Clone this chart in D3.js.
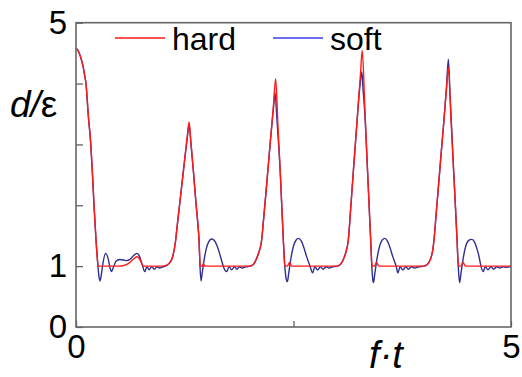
<!DOCTYPE html>
<html>
<head>
<meta charset="utf-8">
<script src="https://cdn.jsdelivr.net/npm/d3@7"></script>
<style>
  body { margin: 0; background: #fff; }
  svg { display: block; font-family: "Liberation Sans", Arial, sans-serif; }
</style>
</head>
<body>
<div id="chart"></div>
<script>
// valeurs : [f·t, d/ε]
const hard = [
  [0,4.58],[0.02,4.55],[0.05,4.45],[0.08,4.29],[0.10,4.13],[0.115,4.0],[0.14,3.5],[0.17,3.0],[0.19,2.5],[0.207,2.0],[0.23,1.43],[0.245,1.12],[0.253,1.0],
  [0.30,1.0],[0.40,1.0],[0.50,1.0],[0.55,1.01],[0.60,1.04],[0.65,1.10],[0.70,1.155],[0.73,1.12],[0.76,1.03],[0.78,1.0],
  [0.90,1.0],[1.00,1.0],[1.05,1.02],[1.08,1.06],[1.11,1.15],[1.146,1.43],[1.16,1.62],[1.19,2.0],[1.22,2.38],[1.25,2.76],[1.28,3.15],[1.30,3.37],
  [1.32,3.05],[1.35,2.55],[1.38,2.02],[1.405,1.62],[1.414,1.43],[1.422,1.15],[1.428,1.0],[1.45,1.0],[1.465,1.04],[1.48,1.0],
  [1.70,1.0],[2.00,1.0],[2.04,1.03],[2.077,1.13],[2.10,1.22],[2.134,1.43],[2.153,1.72],[2.18,2.15],[2.21,2.65],[2.24,3.15],[2.27,3.65],[2.295,4.08],
  [2.32,3.35],[2.35,2.48],[2.383,1.43],[2.395,1.1],[2.40,1.0],[2.43,1.0],[2.455,1.06],[2.48,1.0],
  [2.70,1.0],[3.00,1.0],[3.04,1.03],[3.07,1.1],[3.10,1.22],[3.13,1.43],[3.16,2.0],[3.19,2.6],[3.22,3.18],[3.25,3.77],[3.27,4.16],[3.29,4.55],
  [3.32,3.6],[3.35,2.6],[3.387,1.43],[3.40,1.05],[3.405,1.0],[3.43,1.0],[3.455,1.06],[3.48,1.0],
  [3.70,1.0],[4.00,1.0],[4.04,1.03],[4.07,1.1],[4.10,1.26],[4.115,1.43],[4.14,1.86],[4.17,2.38],[4.20,2.9],[4.23,3.41],[4.26,3.93],[4.28,4.27],
  [4.31,3.42],[4.34,2.57],[4.38,1.43],[4.39,1.1],[4.40,1.0],[4.425,1.0],[4.45,1.06],[4.475,1.0],[4.70,1.0],[5.0,1.0]
];

const soft = [
  [0,4.58],[0.02,4.55],[0.05,4.45],[0.08,4.29],[0.10,4.13],[0.115,4.0],[0.14,3.5],[0.17,3.0],[0.19,2.5],[0.207,2.0],[0.23,1.43],[0.25,1.05],
  [0.262,0.85],[0.276,0.755],[0.29,0.85],[0.31,1.05],[0.34,1.21],[0.37,1.12],[0.39,0.98],[0.406,0.91],[0.43,0.98],[0.46,1.08],[0.50,1.11],
  [0.55,1.10],[0.58,1.09],[0.62,1.11],[0.66,1.17],[0.70,1.21],[0.73,1.16],[0.76,1.03],[0.79,0.91],[0.815,0.99],[0.84,0.94],[0.87,0.99],
  [0.90,0.95],[0.93,0.99],[0.96,0.97],[1.00,0.99],[1.03,1.0],
  [1.05,1.02],[1.08,1.06],[1.11,1.15],[1.146,1.43],[1.16,1.62],[1.19,2.0],[1.22,2.38],[1.25,2.76],[1.28,3.12],[1.30,3.33],
  [1.32,3.03],[1.35,2.55],[1.38,2.02],[1.405,1.62],[1.414,1.43],[1.425,1.0],[1.437,0.76],[1.45,0.88],[1.47,1.08],[1.50,1.30],[1.53,1.41],
  [1.56,1.445],[1.59,1.42],[1.62,1.34],[1.65,1.21],[1.68,1.06],[1.70,0.97],[1.73,0.91],[1.76,0.99],[1.79,0.94],[1.82,0.99],[1.85,0.95],
  [1.88,0.99],[1.91,0.97],[1.95,0.99],[2.00,1.0],
  [2.04,1.03],[2.077,1.13],[2.10,1.22],[2.134,1.43],[2.153,1.72],[2.18,2.15],[2.21,2.65],[2.24,3.15],[2.27,3.6],[2.287,3.85],
  [2.31,3.4],[2.35,2.48],[2.383,1.43],[2.40,1.0],[2.415,0.8],[2.43,0.745],[2.445,0.88],[2.465,1.08],[2.50,1.33],[2.53,1.43],[2.556,1.456],
  [2.59,1.41],[2.62,1.3],[2.65,1.16],[2.69,1.0],[2.72,0.89],[2.745,0.99],[2.777,0.94],[2.81,0.99],[2.84,0.95],[2.875,0.99],[2.91,0.97],
  [2.95,0.99],[3.00,1.0],
  [3.04,1.03],[3.07,1.1],[3.10,1.22],[3.13,1.43],[3.16,2.0],[3.19,2.6],[3.22,3.18],[3.25,3.75],[3.27,4.05],[3.285,4.19],
  [3.30,3.9],[3.32,3.5],[3.35,2.6],[3.387,1.43],[3.40,1.0],[3.41,0.8],[3.42,0.73],[3.435,0.88],[3.455,1.08],[3.49,1.33],[3.52,1.43],
  [3.55,1.456],[3.58,1.41],[3.61,1.3],[3.64,1.16],[3.68,1.0],[3.70,0.89],[3.725,0.99],[3.757,0.94],[3.79,0.99],[3.82,0.95],[3.855,0.99],
  [3.89,0.97],[3.94,0.99],[4.00,1.0],
  [4.04,1.03],[4.07,1.1],[4.10,1.26],[4.115,1.43],[4.14,1.86],[4.17,2.38],[4.20,2.9],[4.23,3.41],[4.26,3.98],[4.28,4.40],
  [4.30,3.8],[4.34,2.6],[4.38,1.43],[4.39,1.1],[4.40,0.85],[4.41,0.73],[4.425,0.88],[4.445,1.08],[4.48,1.33],[4.51,1.42],[4.55,1.44],
  [4.58,1.40],[4.61,1.28],[4.635,1.14],[4.65,1.03],[4.68,0.91],[4.705,0.99],[4.735,0.94],[4.77,0.99],[4.80,0.95],[4.835,0.99],
  [4.87,0.97],[4.91,0.99],[4.95,0.98],[5.0,1.0]
];

const yTicks = [0, 1, 2, 3, 4, 5];
const yLabels = ["0", "1", "", "", "", "5"];
const xTicks = [0, 2.5, 5];
const xLabels = ["0", "", "5"];
const seriesNames = ["hard", "soft"];

const width = 522, height = 377;
const x = d3.scaleLinear().domain([0, 5]).range([76, 511]);
const y = d3.scaleLinear().domain([0, 5]).range([327, 22.7]);

const svg = d3.select("#chart").append("svg")
  .attr("width", width)
  .attr("height", height);

// axes (ticks vers l'intérieur)
const axeY = d3.axisLeft(y).tickValues(yTicks).tickSize(-7).tickPadding(9)
  .tickFormat((d, i) => yLabels[i]);
const axeX = d3.axisBottom(x).tickValues(xTicks).tickSize(-6).tickPadding(7)
  .tickFormat((d, i) => xLabels[i]);

const gy = svg.append("g").attr("transform", "translate(" + x(0) + ",0)").call(axeY);
const gx = svg.append("g").attr("transform", "translate(0," + y(0) + ")").call(axeX);
[gy, gx].forEach(g => {
  g.select(".domain").remove();
  g.selectAll(".tick line").attr("stroke", "#555").attr("stroke-width", 1.2);
  g.selectAll(".tick text").attr("font-size", 33).attr("fill", "#000")
    .attr("font-family", "'Liberation Sans', Arial, sans-serif");
});
gx.selectAll(".tick text").attr("dy", "0.72em");

// courbes
const line = d3.line()
  .x(d => x(d[0]))
  .y(d => y(d[1]))
  .curve(d3.curveMonotoneX);

svg.append("path").datum(soft)
  .attr("fill", "none").attr("stroke", "#2f2f8f").attr("stroke-width", 1.4)
  .attr("d", line);
svg.append("path").datum(hard)
  .attr("fill", "none").attr("stroke", "#ff1a1a").attr("stroke-width", 1.4)
  .attr("d", line);

// cadre
svg.append("rect")
  .attr("x", x(0)).attr("y", y(5))
  .attr("width", x(5) - x(0)).attr("height", y(0) - y(5))
  .attr("fill", "none").attr("stroke", "#666").attr("stroke-width", 1.6);

// légende
const legendColors = ["#ff1a1a", "#3a3af0"];
const legendX = [115, 273];
seriesNames.forEach((name, i) => {
  svg.append("line")
    .attr("x1", legendX[i]).attr("x2", legendX[i] + 50)
    .attr("y1", 38).attr("y2", 38)
    .attr("stroke", legendColors[i]).attr("stroke-width", 1.6);
  svg.append("text")
    .attr("x", legendX[i] + 57).attr("y", 50)
    .attr("font-size", 32).attr("fill", "#000")
    .text(name);
});

// titres des axes
const ty = svg.append("text").attr("x", 10).attr("y", 117).attr("font-size", 37).attr("fill", "#000");
ty.append("tspan").attr("font-style", "italic").text("d/");
ty.append("tspan").text("ε");

const tx = svg.append("text").attr("x", 386).attr("y", 368).attr("text-anchor", "middle")
  .attr("font-size", 38).attr("font-style", "italic").attr("fill", "#000");
tx.text("f·t");
</script>
</body>
</html>
